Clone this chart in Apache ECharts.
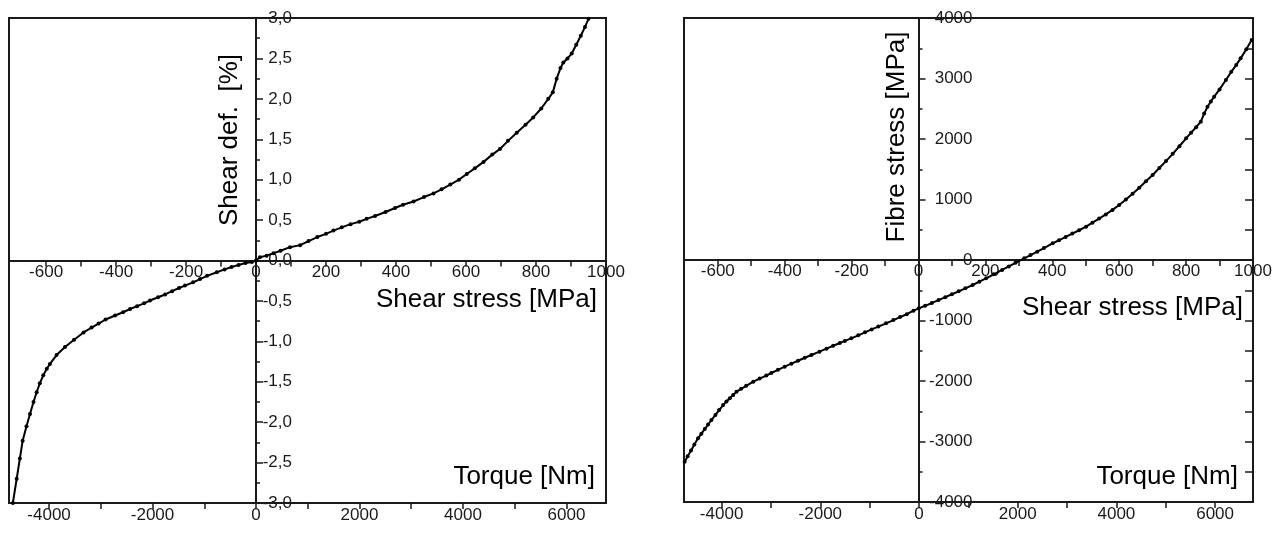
<!DOCTYPE html>
<html>
<head>
<meta charset="utf-8">
<script src="https://cdn.jsdelivr.net/npm/echarts@6/dist/echarts.min.js"></script>
<style>
  html, body { margin: 0; padding: 0; background: #fff; }
  #main { width: 1287px; height: 538px; }
</style>
</head>
<body>
<div id="main"></div>
<script>
// left panel: shear deformation [%] against shear stress [MPa]
var shearL = [-695, -684, -675, -667, -656, -646, -636, -627, -618, -608, -598, -589, -570, -546, -520, -493,
  -470, -450, -430, -403, -380, -360, -340, -320, -303, -280, -260, -240, -220, -203, -180, -160, -140, -112,
  -90, -70, -50, -30, -12, 0, 11, 30, 50, 70, 97, 126, 150, 175, 200, 221, 245, 270, 295, 316, 340, 370, 397,
  420, 450, 480, 507, 530, 555, 580, 602, 625, 650, 675, 697, 720, 745, 770, 792, 815, 835, 848, 859, 870,
  878, 890, 902, 915, 928, 940, 950];
var defL = [-3.00, -2.70, -2.45, -2.23, -2.05, -1.90, -1.75, -1.63, -1.52, -1.42, -1.34, -1.28, -1.17, -1.07,
  -0.98, -0.89, -0.83, -0.78, -0.73, -0.68, -0.64, -0.60, -0.565, -0.53, -0.495, -0.455, -0.42, -0.38, -0.34,
  -0.31, -0.27, -0.23, -0.19, -0.145, -0.11, -0.08, -0.055, -0.03, -0.02, 0, 0.04, 0.06, 0.09, 0.12, 0.165,
  0.19, 0.24, 0.29, 0.33, 0.37, 0.41, 0.45, 0.48, 0.515, 0.55, 0.60, 0.65, 0.69, 0.73, 0.785, 0.83, 0.88,
  0.94, 1.00, 1.07, 1.14, 1.22, 1.31, 1.38, 1.48, 1.58, 1.68, 1.77, 1.88, 2.00, 2.08, 2.25, 2.38, 2.45, 2.50,
  2.56, 2.67, 2.78, 2.89, 2.99];

// right panel: fibre stress [MPa] against shear stress [MPa]
var shearR = [-699, -690, -680, -670, -659, -649, -639, -629, -619, -607, -596, -584, -574, -564, -554, -544,
  -530, -515, -494, -475, -455, -440, -420, -400, -380, -360, -340, -320, -296, -275, -255, -235, -220, -201,
  -180, -160, -140, -120, -97, -75, -55, -35, -15, 1, 20, 40, 60, 80, 100, 120, 140, 162, 182, 202, 225, 250,
  270, 290, 316, 335, 355, 375, 401, 420, 440, 460, 480, 501, 520, 540, 560, 580, 600, 620, 640, 660, 680,
  700, 720, 740, 760, 780, 800, 815, 830, 844, 854, 864, 874, 884, 900, 919, 935, 950, 963, 980, 996];
var fibreR = [-3333, -3245, -3150, -3050, -2948, -2870, -2795, -2720, -2645, -2560, -2480, -2397, -2340, -2285,
  -2230, -2176, -2130, -2080, -2011, -1960, -1910, -1868, -1815, -1763, -1714, -1665, -1616, -1570, -1515,
  -1465, -1418, -1372, -1338, -1295, -1245, -1196, -1148, -1100, -1047, -993, -944, -896, -838, -799, -757,
  -710, -662, -614, -566, -518, -468, -413, -358, -303, -237, -165, -107, -47, 27, 82, 137, 198, 276, 326,
  381, 437, 492, 551, 617, 685, 753, 828, 909, 1000, 1095, 1195, 1300, 1405, 1520, 1635, 1755, 1880, 2011,
  2105, 2195, 2286, 2420, 2534, 2620, 2700, 2820, 2975, 3110, 3225, 3333, 3485, 3636];

var shearTicks = [-600, -500, -400, -300, -200, -100, 0, 100, 200, 300, 400, 500, 600, 700, 800, 900, 1000];
var shearLabels = [-600, -400, -200, 0, 200, 400, 600, 800, 1000];
var torqueTicks = [-4000, -3000, -2000, -1000, 0, 1000, 2000, 3000, 4000, 5000, 6000];
var torqueLabels = [-4000, -2000, 0, 2000, 4000, 6000];

function zip(a, b) {
  var out = [];
  for (var i = 0; i < a.length; i++) out.push([a[i], b[i]]);
  return out;
}
function plain(v) { return String(v); }

var FONT = '"Liberation Sans", Arial, sans-serif';
var INK = '#1a1a1a';

function torqueAxis(grid, min, max) {
  return {
    type: 'value', gridIndex: grid, position: 'bottom', min: min, max: max,
    axisLine: { show: false, onZero: false },
    axisTick: { show: true, length: 6, customValues: torqueTicks, lineStyle: { color: INK, width: 1.5 } },
    axisLabel: { customValues: torqueLabels, margin: 4, fontSize: 17, fontFamily: FONT, color: INK, formatter: plain },
    splitLine: { show: false }
  };
}
// the shear stress axis runs along the zero line, pushed down from the top edge
function shearAxis(grid, min, offset) {
  return {
    type: 'value', gridIndex: grid, position: 'top', offset: offset, min: min, max: 1000,
    axisLine: { show: true, onZero: false, lineStyle: { color: INK, width: 2 } },
    axisTick: { show: true, inside: true, length: 6, customValues: shearTicks, lineStyle: { color: INK, width: 1.5 } },
    axisLabel: { inside: true, customValues: shearLabels, margin: 3, fontSize: 17, fontFamily: FONT, color: INK, formatter: plain },
    splitLine: { show: false }
  };
}

var myChart = echarts.init(document.getElementById('main'));

var option = {
  animation: false,
  grid: [
    { left: 9, top: 18, width: 597, height: 485, show: true, borderColor: INK, borderWidth: 2 },
    { left: 684, top: 18, width: 569, height: 484, show: true, borderColor: INK, borderWidth: 2 }
  ],
  xAxis: [
    torqueAxis(0, -4774, 6765),
    shearAxis(0, -706, -242.5),
    torqueAxis(1, -4762, 6768),
    shearAxis(1, -701, -242)
  ],
  yAxis: [
    {
      type: 'value', gridIndex: 0, position: 'right', offset: -350, min: -3, max: 3, interval: 0.5,
      axisLine: { show: true, onZero: false, lineStyle: { color: INK, width: 2 } },
      axisTick: { show: true, length: 7, lineStyle: { color: INK, width: 1.5 } },
      minorTick: { show: true, splitNumber: 2, length: 4, lineStyle: { color: INK, width: 1.5 } },
      axisLabel: {
        align: 'right', margin: 36, fontSize: 17, fontFamily: FONT, color: INK,
        formatter: function (v) { return v.toFixed(1).replace('.', ','); }
      },
      splitLine: { show: false }
    },
    {
      type: 'value', gridIndex: 1, position: 'right', offset: -334.5, min: -4000, max: 4000, interval: 1000,
      axisLine: { show: true, onZero: false, lineStyle: { color: INK, width: 2 } },
      axisTick: { show: true, length: 7, lineStyle: { color: INK, width: 1.5 } },
      minorTick: { show: true, splitNumber: 2, length: 4, lineStyle: { color: INK, width: 1.5 } },
      axisLabel: { align: 'right', margin: 54, fontSize: 17, fontFamily: FONT, color: INK, formatter: plain },
      splitLine: { show: false }
    },
    {
      type: 'value', gridIndex: 1, position: 'right', min: -4000, max: 4000, interval: 500,
      axisLine: { show: false, onZero: false },
      axisTick: { show: true, inside: true, length: 8, lineStyle: { color: INK, width: 1.5 } },
      axisLabel: { show: false },
      splitLine: { show: false }
    }
  ],
  graphic: [
    { type: 'text', x: 230, y: 140, rotation: Math.PI / 2,
      style: { text: 'Shear def.  [%]', font: '26px ' + FONT, fill: '#000', align: 'center', verticalAlign: 'middle' } },
    { type: 'text', x: 597, y: 300,
      style: { text: 'Shear stress [MPa]', font: '26px ' + FONT, fill: '#000', align: 'right', verticalAlign: 'middle' } },
    { type: 'text', x: 595, y: 477,
      style: { text: 'Torque [Nm]', font: '26px ' + FONT, fill: '#000', align: 'right', verticalAlign: 'middle' } },
    { type: 'text', x: 897, y: 137, rotation: Math.PI / 2,
      style: { text: 'Fibre stress [MPa]', font: '26px ' + FONT, fill: '#000', align: 'center', verticalAlign: 'middle' } },
    { type: 'text', x: 1243, y: 308,
      style: { text: 'Shear stress [MPa]', font: '26px ' + FONT, fill: '#000', align: 'right', verticalAlign: 'middle' } },
    { type: 'text', x: 1238, y: 477,
      style: { text: 'Torque [Nm]', font: '26px ' + FONT, fill: '#000', align: 'right', verticalAlign: 'middle' } }
  ],
  series: [
    {
      type: 'line', xAxisIndex: 1, yAxisIndex: 0, data: zip(shearL, defL),
      symbol: 'circle', symbolSize: 4, showSymbol: true,
      lineStyle: { color: '#000', width: 2 }, itemStyle: { color: '#000' }
    },
    {
      type: 'line', xAxisIndex: 3, yAxisIndex: 1, data: zip(shearR, fibreR),
      symbol: 'circle', symbolSize: 4, showSymbol: true,
      lineStyle: { color: '#000', width: 2 }, itemStyle: { color: '#000' }
    }
  ]
};
myChart.setOption(option);
</script>
</body>
</html>
